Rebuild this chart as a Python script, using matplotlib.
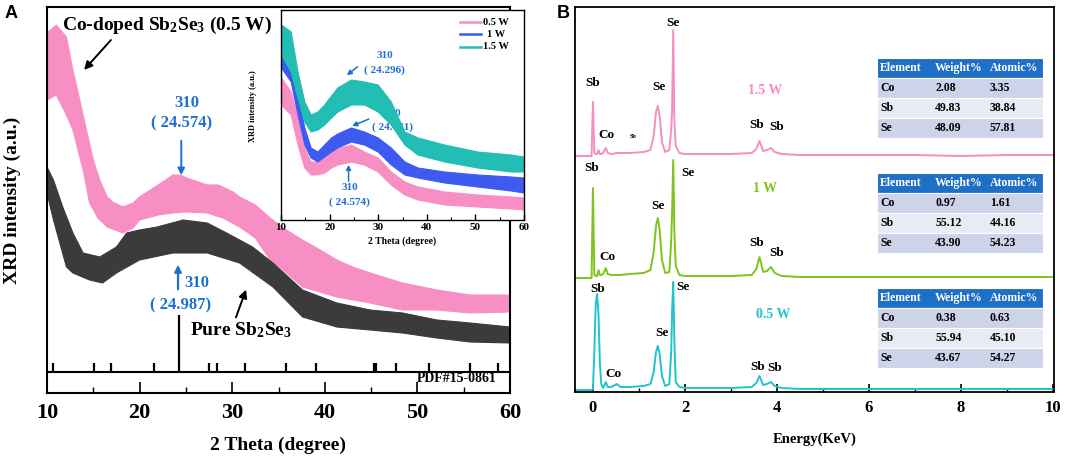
import matplotlib
matplotlib.use("Agg")
import matplotlib.pyplot as plt
import numpy as np
from matplotlib.patches import Rectangle
from matplotlib.ticker import MultipleLocator

plt.rcParams["font.family"] = ["Liberation Serif", "DejaVu Serif"]
plt.rcParams["font.weight"] = "bold"
plt.rcParams["mathtext.fontset"] = "custom"
plt.rcParams["mathtext.rm"] = "Liberation Serif:bold"
plt.rcParams["mathtext.it"] = "Liberation Serif:bold"
plt.rcParams["mathtext.bf"] = "Liberation Serif:bold"
plt.rcParams["mathtext.default"] = "rm"

W, H = 1065, 459

# ─── Data: panel A, main XRD (band envelopes) ────────────────────────────────
PINK_TOP_X = [10, 11, 12.1, 12.8, 13.9, 15, 15.7, 16.5, 17.1, 18.2, 19.3, 20, 21.5, 22.5,
              23.6, 24.4, 25.1, 27.3, 28.5, 30.1, 30.8, 32.5, 34.1, 35.5, 37.6, 39.5,
              41.3, 43, 44.9, 48.4, 52.1, 55.7, 60]
PINK_TOP_Y = [360, 368, 356, 323, 278, 233, 213, 196, 191, 186, 190, 196, 205, 211,
              218, 218, 215, 208, 208, 201, 196, 188, 175, 165, 153, 143,
              133, 126, 120, 110, 103, 98, 98]
PINK_BOT_X = [10, 11, 12.1, 12.8, 13.9, 14.6, 15.5, 16.5, 18.2, 19.3, 20, 22, 23.6, 25,
              27.3, 29, 30.8, 32.5, 34.1, 35.5, 37.6, 41.3, 44.9, 48.4, 52.1, 55.7, 60]
PINK_BOT_Y = [293, 298, 278, 263, 223, 190, 175, 166, 160, 165, 173, 178, 180, 181,
              180, 175, 166, 155, 133, 123, 106, 96, 90, 83, 83, 80, 81]

PURE_TOP_X = [10, 10.7, 11.7, 12.8, 13.9, 15.7, 17.5, 18.6, 20, 21.9, 24.7, 27.3, 29.4,
              32.2, 34.4, 37.6, 41.3, 44.9, 48.4, 52.1, 55.7, 60]
PURE_TOP_Y = [226, 213, 186, 160, 140, 136, 146, 160, 163, 166, 173, 170, 160,
              146, 130, 103, 90, 83, 80, 73, 70, 66]
PURE_BOT_X = [10, 10.7, 12.1, 12.8, 14.6, 16, 17.5, 20, 23.6, 27.3, 30.8, 34.4, 37.6,
              41.3, 44.9, 48.4, 52.1, 55.7, 60]
PURE_BOT_Y = [200, 173, 126, 120, 113, 110, 120, 133, 140, 140, 130, 106, 76,
              66, 63, 60, 55, 51, 50]

# reference pattern PDF#15-0861
REF_POS = [10.7, 15.1, 16.9, 21.6, 24.3, 27.5, 28.4, 31.4, 35.8, 39.0, 45.3, 45.5,
           47.7, 51.3, 55.7, 58.7]
REF_HEIGHT = [9, 9, 9, 9, 57, 9, 9, 9, 9, 9, 9, 9, 9, 9, 9, 9]

# ─── Data: inset XRD ─────────────────────────────────────────────────────────
INSET_X = [10.1, 12.1, 13.5, 14.9, 16.2, 17.6, 19.0, 20.4, 21.7, 24.5, 27.2, 30.0,
           32.7, 35.5, 38.2, 43.7, 50.5, 57.4, 60.0]
CYAN_TOP = [195, 188, 148, 118, 105, 108, 115, 124, 132, 140, 138, 135, 118, 88, 82, 75, 68, 65, 63]
CYAN_BOT = [165, 148, 122, 98, 88, 90, 95, 102, 108, 115, 115, 108, 95, 75, 65, 58, 52, 48, 48]
BLUE_TOP = [175, 168, 125, 92, 72, 68, 75, 82, 86, 92, 88, 82, 72, 58, 52, 48, 45, 43, 42]
BLUE_BOT = [152, 138, 105, 75, 62, 58, 63, 68, 72, 78, 75, 68, 55, 45, 42, 37, 33, 29, 27]
PINK_IN_TOP = [142, 128, 102, 72, 58, 58, 62, 68, 71, 75, 68, 62, 48, 38, 33, 28, 25, 23, 22]
PINK_IN_BOT = [115, 105, 75, 52, 45, 45, 47, 52, 55, 58, 55, 48, 35, 25, 20, 15, 13, 11, 10]

# ─── Data: panel B, EDS spectra ──────────────────────────────────────────────
ENERGY = [-0.39, -0.03, 0.0, 0.03, 0.06, 0.09, 0.12, 0.15, 0.18, 0.22, 0.28, 0.32, 0.40,
          0.52, 0.60, 0.8, 1.1, 1.25, 1.32, 1.37, 1.41, 1.45, 1.50, 1.57, 1.66, 1.70,
          1.72, 1.745, 1.77, 1.80, 1.88, 2.0, 2.5, 3.0, 3.45, 3.55, 3.62, 3.70, 3.78,
          3.87, 3.95, 4.1, 4.5, 5.0, 6.0, 7.0, 8.0, 9.0, 10.0]
EDS_15W = [236, 236, 290, 239, 238, 238, 242, 238, 238, 239, 244, 239, 238,
           239, 239, 239, 240, 242, 256, 280, 286, 276, 250, 240, 242, 262,
           282, 362, 270, 246, 239, 238, 238, 238, 239, 243, 251, 241, 242,
           244, 240, 238, 237, 237, 237, 237, 236, 237, 237]
EDS_1W = [114, 114, 204, 117, 116, 116, 122, 117, 117, 118, 124, 118, 117,
          117, 117, 118, 119, 122, 140, 166, 174, 162, 132, 119, 120, 150,
          180, 232, 160, 126, 117, 116, 116, 116, 117, 123, 135, 120, 121,
          125, 119, 116, 115, 115, 115, 115, 115, 115, 115]
EDS_05W = [2, 2, 3, 40, 88, 98, 78, 30, 8, 4, 10, 5, 5,
           8, 5, 5, 6, 8, 20, 40, 46, 38, 16, 6, 8, 40,
           80, 110, 50, 10, 5, 4, 4, 4, 5, 9, 16, 7, 8,
           10, 6, 4, 3, 3, 3, 3, 3, 3, 3]

TABLE_HEADER = ["Element", "Weight%", "Atomic%"]
ELEMENTS = ["Co", "Sb", "Se"]
WEIGHT_15W = ["2.08", "49.83", "48.09"]
ATOMIC_15W = ["3.35", "38.84", "57.81"]
WEIGHT_1W = ["0.97", "55.12", "43.90"]
ATOMIC_1W = ["1.61", "44.16", "54.23"]
WEIGHT_05W = ["0.38", "55.94", "43.67"]
ATOMIC_05W = ["0.63", "45.10", "54.27"]

PINK = "#F78EC4"
DARK = "#3B3B3B"
BLUE_TXT = "#1E6FD2"
INSET_BLUE = "#3D5AF1"
INSET_CYAN = "#22BDB3"
EDS_PINK = "#F58EC3"
EDS_GREEN = "#7DC41E"
EDS_CYAN = "#22C3CB"
HEAD_BLUE = "#1F6FC6"
ROW_DARK = "#CDD3E9"
ROW_LIGHT = "#E8EAF4"


def band(ax, xt, yt, xb, yb, color, zorder=2):
    xs = np.concatenate([xt, np.asarray(xb)[::-1]])
    ys = np.concatenate([yt, np.asarray(yb)[::-1]])
    ax.fill(xs, ys, color=color, lw=0.8, ec=color, zorder=zorder)


def fpos(x, y):
    return x / W, 1 - y / H


fig = plt.figure(figsize=(W / 100, H / 100), dpi=100)

# ─── Panel A ─────────────────────────────────────────────────────────────────
axA = fig.add_axes([47 / W, 1 - 393 / H, 463 / W, 386 / H])
axA.set_xlim(10, 60)
axA.set_ylim(0, 386)
band(axA, PINK_TOP_X, PINK_TOP_Y, PINK_BOT_X, PINK_BOT_Y, PINK)
band(axA, PURE_TOP_X, PURE_TOP_Y, PURE_BOT_X, PURE_BOT_Y, DARK)
axA.axhline(21, color="black", lw=1.5)
axA.vlines(REF_POS, 21, 21 + np.array(REF_HEIGHT), color="black", lw=1.6)
axA.set_yticks([])
axA.xaxis.set_major_locator(MultipleLocator(10))
axA.xaxis.set_minor_locator(MultipleLocator(5))
axA.tick_params(axis="x", which="major", direction="in", length=8, width=1.2,
                labelsize=16, pad=7)
axA.tick_params(axis="x", which="minor", direction="in", length=4, width=1.0)
for lab in axA.get_xticklabels():
    lab.set_fontweight("bold")
for s in axA.spines.values():
    s.set_linewidth(1.5)
axA.set_xlabel("2 Theta (degree)", fontsize=14, fontweight="bold", labelpad=10)
fig.text(12 / W, 1 - 200 / H, "XRD intensity (a.u.)", rotation=90, ha="center",
         va="center", fontsize=14, fontweight="bold")

axA.text(23.0, 368, "Co-doped Sb$_2$Se$_3$ (0.5 W)", ha="center", va="center",
         fontsize=14, fontweight="bold")
axA.annotate("", xy=(13.8, 321), xytext=(17.1, 355),
             arrowprops=dict(arrowstyle="-|>", color="black", lw=1.4, mutation_scale=12))
axA.text(25.1, 290, "310", color=BLUE_TXT, ha="center", va="center", fontsize=12)
axA.text(24.5, 270, "( 24.574)", color=BLUE_TXT, ha="center", va="center", fontsize=12)
axA.annotate("", xy=(24.5, 215), xytext=(24.5, 255),
             arrowprops=dict(arrowstyle="-|>", color=BLUE_TXT, lw=1.4, mutation_scale=10))
axA.annotate("", xy=(24.15, 131), xytext=(24.15, 101),
             arrowprops=dict(arrowstyle="-|>", color=BLUE_TXT, lw=1.6, mutation_scale=10))
axA.text(26.2, 110, "310", color=BLUE_TXT, ha="center", va="center", fontsize=12)
axA.text(24.4, 88, "( 24.987)", color=BLUE_TXT, ha="center", va="center", fontsize=12)
axA.text(30.95, 63, "Pure Sb$_2$Se$_3$", ha="center", va="center", fontsize=14,
         fontweight="bold")
axA.annotate("", xy=(31.6, 106), xytext=(30.3, 73),
             arrowprops=dict(arrowstyle="-|>", color="black", lw=1.4, mutation_scale=12))
axA.text(58.6, 15, "PDF#15-0861", ha="right", va="center", fontsize=10, fontweight="bold")

# ─── Inset ───────────────────────────────────────────────────────────────────
axI = fig.add_axes([281 / W, 1 - 220 / H, 243 / W, 210 / H])
axI.set_xlim(10, 60)
axI.set_ylim(0, 210)
band(axI, INSET_X, PINK_IN_TOP, INSET_X, PINK_IN_BOT, PINK)
band(axI, INSET_X, BLUE_TOP, INSET_X, BLUE_BOT, INSET_BLUE)
band(axI, INSET_X, CYAN_TOP, INSET_X, CYAN_BOT, INSET_CYAN)
axI.set_yticks([])
axI.xaxis.set_major_locator(MultipleLocator(10))
axI.xaxis.set_minor_locator(MultipleLocator(5))
axI.tick_params(axis="x", which="major", direction="in", length=4, width=1.0,
                labelsize=8, pad=2)
axI.tick_params(axis="x", which="minor", direction="in", length=2, width=0.8)
for lab in axI.get_xticklabels():
    lab.set_fontweight("bold")
for s in axI.spines.values():
    s.set_linewidth(1.0)
axI.set_xlabel("2 Theta (degree)", fontsize=7, fontweight="bold", labelpad=3)
axI.text(-0.115, 0.54, "XRD intensity (a.u.)", rotation=90, ha="center", va="center",
         fontsize=6, fontweight="bold", transform=axI.transAxes)

legend_items = [("0.5 W", PINK), ("1 W", INSET_BLUE), ("1.5 W", INSET_CYAN)]
for i, (lab, col) in enumerate(legend_items):
    yy = 198 - i * 12.4
    axI.plot([46.8, 51.1], [yy, yy], color=col, lw=1.8)
    axI.text(54.3, yy, lab, ha="center", va="center", fontsize=7.5, fontweight="bold")

axI.text(31.3, 165, "310", color=BLUE_TXT, ha="center", va="center", fontsize=8)
axI.text(31.3, 150, "( 24.296)", color=BLUE_TXT, ha="center", va="center", fontsize=8)
axI.annotate("", xy=(23.1, 143), xytext=(26.2, 155),
             arrowprops=dict(arrowstyle="-|>", color=BLUE_TXT, lw=1.1, mutation_scale=7))
axI.text(33.0, 107, "310", color=BLUE_TXT, ha="center", va="center", fontsize=8, zorder=1)
axI.text(33.0, 93, "( 24.441)", color=BLUE_TXT, ha="center", va="center", fontsize=8,
         zorder=1)
axI.annotate("", xy=(24.1, 93), xytext=(28.6, 102),
             arrowprops=dict(arrowstyle="-|>", color=BLUE_TXT, lw=1.1, mutation_scale=7))
axI.text(24.1, 32, "310", color=BLUE_TXT, ha="center", va="center", fontsize=8)
axI.text(24.1, 18, "( 24.574)", color=BLUE_TXT, ha="center", va="center", fontsize=8)
axI.annotate("", xy=(23.9, 58), xytext=(23.9, 36),
             arrowprops=dict(arrowstyle="-|>", color=BLUE_TXT, lw=1.1, mutation_scale=7))

# ─── Panel B ─────────────────────────────────────────────────────────────────
axB = fig.add_axes([575 / W, 1 - 392 / H, 479 / W, 385 / H])
axB.set_xlim(-0.39, 10.02)
axB.set_ylim(0, 385)
axB.plot(ENERGY, EDS_15W, color=EDS_PINK, lw=1.4)
axB.plot(ENERGY, EDS_1W, color=EDS_GREEN, lw=1.4)
axB.plot(ENERGY, EDS_05W, color=EDS_CYAN, lw=1.4)
axB.set_yticks([])
axB.xaxis.set_major_locator(MultipleLocator(2))
axB.xaxis.set_minor_locator(MultipleLocator(1))
axB.tick_params(axis="x", which="major", direction="in", length=6, width=1.2,
                labelsize=12, pad=6)
axB.tick_params(axis="x", which="minor", direction="in", length=3, width=1.0)
for lab in axB.get_xticklabels():
    lab.set_fontweight("bold")
for s in axB.spines.values():
    s.set_linewidth(1.3)
axB.set_xlabel("Energy(KeV)", fontsize=10.5, fontweight="bold", labelpad=12)


def ptxt(x, y, s, color="black", size=9.5, **kw):
    fig.text(*fpos(x, y), s, color=color, fontsize=size, fontweight="bold",
             ha="center", va="center", **kw)


# peak labels (pixel positions)
ptxt(593, 83, "Sb"); ptxt(606, 135, "Co"); ptxt(633, 137, "Sb", size=4.5)
ptxt(659, 87, "Se"); ptxt(673, 23, "Se"); ptxt(757, 125, "Sb"); ptxt(777, 127, "Sb")
ptxt(765, 90, "1.5 W", color=EDS_PINK, size=10)
ptxt(592, 168, "Sb"); ptxt(688, 173, "Se"); ptxt(658, 206, "Se"); ptxt(607, 257, "Co")
ptxt(757, 243, "Sb"); ptxt(777, 253, "Sb")
ptxt(765, 189, "1 W", color=EDS_GREEN, size=10)
ptxt(598, 289, "Sb"); ptxt(683, 287, "Se"); ptxt(662, 333, "Se"); ptxt(613, 374, "Co")
ptxt(758, 367, "Sb"); ptxt(775, 368, "Sb")
ptxt(773, 315, "0.5 W", color=EDS_CYAN, size=10)


def draw_table(top, weights, atomics):
    left, right, rh = 877, 1043, 20
    cols = [880, 935, 990]
    fills = [HEAD_BLUE, ROW_DARK, ROW_LIGHT, ROW_DARK]
    rows = [TABLE_HEADER] + [[e, w, a] for e, w, a in zip(ELEMENTS, weights, atomics)]
    for i, row in enumerate(rows):
        y0 = top + i * rh
        fig.patches.append(Rectangle(fpos(left, y0 + rh), (right - left) / W, rh / H,
                                     transform=fig.transFigure, fc=fills[i], ec="white",
                                     lw=0.8))
        for cx, val in zip(cols, row):
            fig.text(*fpos(cx, y0 + rh / 2), val, fontsize=8.5, fontweight="bold",
                     color="white" if i == 0 else "black", ha="left", va="center")


draw_table(58, WEIGHT_15W, ATOMIC_15W)
draw_table(173, WEIGHT_1W, ATOMIC_1W)
draw_table(288, WEIGHT_05W, ATOMIC_05W)

fig.text(*fpos(11, 14), "A", fontsize=13, fontweight="bold", family="Liberation Sans",
         ha="center", va="center")
fig.text(*fpos(563, 14), "B", fontsize=13, fontweight="bold", family="Liberation Sans",
         ha="center", va="center")

fig.savefig("out.png", dpi=100)
